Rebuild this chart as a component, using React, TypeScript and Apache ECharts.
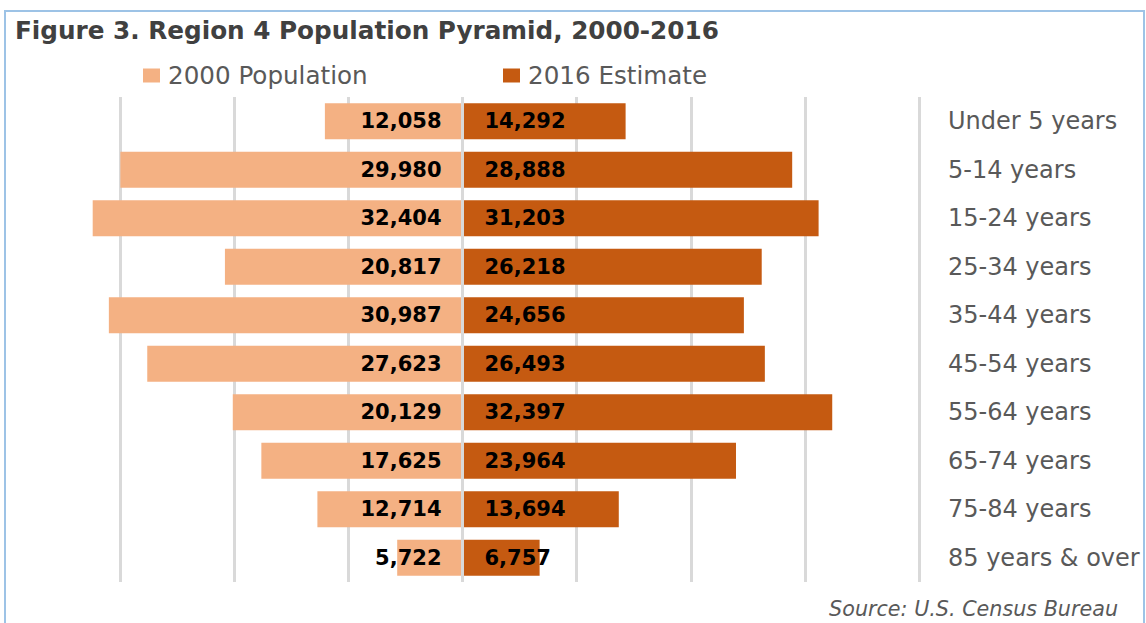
import React, { useEffect, useRef } from "react";
import * as echarts from "echarts";

const categories = [
  "Under 5 years",
  "5-14 years",
  "15-24 years",
  "25-34 years",
  "35-44 years",
  "45-54 years",
  "55-64 years",
  "65-74 years",
  "75-84 years",
  "85 years & over",
];
const pop2000 = [12058, 29980, 32404, 20817, 30987, 27623, 20129, 17625, 12714, 5722];
const est2016 = [14292, 28888, 31203, 26218, 24656, 26493, 32397, 23964, 13694, 6757];
const seriesNames = ["2000 Population", "2016 Estimate"];
const titleText = "Figure 3. Region 4 Population Pyramid, 2000-2016";
const sourceText = "Source: U.S. Census Bureau";

const FONT = "DejaVu Sans";

export default function App() {
  const ref = useRef<HTMLDivElement>(null);
  useEffect(() => {
    const chart = echarts.init(ref.current!, null, { renderer: "svg" });
    const fmt = (p: any) => Math.abs(p.value).toLocaleString("en-US");
    chart.setOption({
      animation: false,
      backgroundColor: "#ffffff",
      title: {
        text: titleText,
        left: 15,
        top: 18,
        padding: 0,
        textStyle: { fontFamily: FONT, fontSize: 24.7, fontWeight: "bold", color: "#404040" },
      },
      legend: [
        {
          data: [seriesNames[0]],
          left: 143,
          top: 63,
          padding: 0,
          icon: "rect",
          itemWidth: 17,
          itemHeight: 14,
          textStyle: { fontFamily: FONT, fontSize: 24.6, color: "#595959", padding: [0, 0, 0, 3] },
        },
        {
          data: [seriesNames[1]],
          left: 503,
          top: 63,
          padding: 0,
          icon: "rect",
          itemWidth: 17,
          itemHeight: 14,
          textStyle: { fontFamily: FONT, fontSize: 24.6, color: "#595959", padding: [0, 0, 0, 3] },
        },
      ],
      grid: { left: 6, right: 227, top: 97, bottom: 41, containLabel: false },
      xAxis: {
        type: "value",
        min: -40000,
        max: 40000,
        interval: 10000,
        axisLabel: { show: false },
        axisLine: { show: false },
        axisTick: { show: false },
        splitLine: {
          show: true,
          showMinLine: false,
          lineStyle: { color: "#D9D9D9", width: 3 },
        },
      },
      yAxis: {
        type: "category",
        data: categories,
        inverse: true,
        position: "right",
        axisLine: { show: false },
        axisTick: { show: false },
        axisLabel: {
          margin: 29,
          align: "left",
          fontFamily: FONT,
          fontSize: 24,
          color: "#595959",
        },
      },
      graphic: [
        {
          type: "rect",
          shape: { x: 5, y: 11, width: 1139, height: 700 },
          style: { fill: "none", stroke: "#9DC3E6", lineWidth: 2 },
          silent: true,
          z: 100,
        },
        {
          type: "text",
          right: 28,
          top: 598,
          style: {
            text: sourceText,
            fontFamily: FONT,
            fontSize: 20.7,
            fontStyle: "italic",
            fill: "#595959",
          },
        },
      ],
      series: [
        {
          name: seriesNames[0],
          type: "bar",
          data: pop2000.map((v) => -v),
          barWidth: 36,
          barGap: "-100%",
          itemStyle: { color: "#F4B183" },
          label: {
            show: true,
            position: "insideRight",
            distance: 21,
            formatter: fmt,
            fontFamily: FONT,
            fontSize: 21,
            fontWeight: "bold",
            color: "#000000",
          },
          markLine: {
            silent: true,
            symbol: "none",
            label: { show: false },
            lineStyle: { color: "#D9D9D9", width: 3, type: "solid" },
            data: [{ xAxis: 0 }],
          },
        },
        {
          name: seriesNames[1],
          type: "bar",
          data: est2016,
          barWidth: 36,
          barGap: "-100%",
          itemStyle: { color: "#C55A11" },
          label: {
            show: true,
            position: "insideLeft",
            distance: 22,
            formatter: fmt,
            fontFamily: FONT,
            fontSize: 21,
            fontWeight: "bold",
            color: "#000000",
          },
        },
      ],
    });
    return () => chart.dispose();
  }, []);
  return (
    <div
      ref={ref}
      style={{ position: "fixed", left: 0, top: 0, width: 1146, height: 623 }}
    />
  );
}
